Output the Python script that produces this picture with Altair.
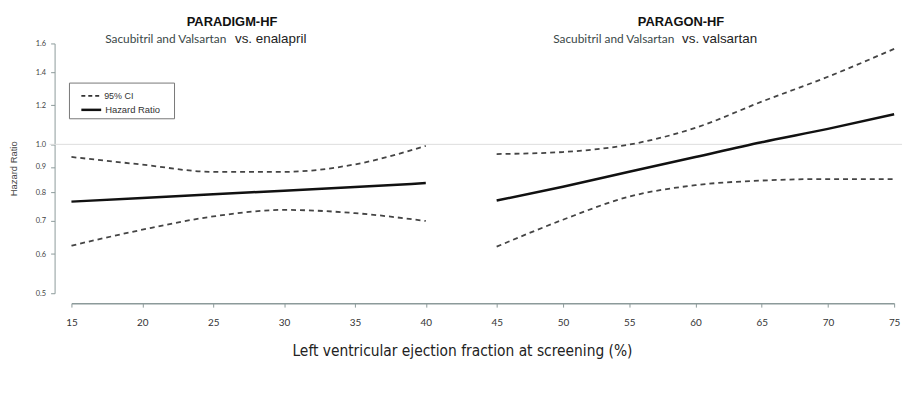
import altair as alt
import pandas as pd

trial = ["PARADIGM-HF"] * 6 + ["PARAGON-HF"] * 7
ef = [15, 20, 25, 30, 35, 40, 45, 50, 55, 60, 65, 70, 75]
hr = [0.766, 0.779, 0.793, 0.806, 0.820, 0.835,
      0.770, 0.821, 0.880, 0.943, 1.010, 1.075, 1.151]
upper = [0.943, 0.910, 0.880, 0.880, 0.911, 0.993,
         0.956, 0.965, 0.999, 1.080, 1.220, 1.370, 1.560]
lower = [0.624, 0.672, 0.715, 0.737, 0.726, 0.700,
         0.621, 0.704, 0.784, 0.827, 0.845, 0.851, 0.851]
x_ticks = [15, 20, 25, 30, 35, 40, 45, 50, 55, 60, 65, 70, 75]
y_ticks = [0.5, 0.6, 0.7, 0.8, 0.9, 1.0, 1.2, 1.4, 1.6]
ref_value = [1.0]

df = pd.DataFrame({"trial": trial, "ef": ef, "hr": hr, "upper": upper, "lower": lower})

AXIS_GRAY = "#8c9a9a"

xenc = alt.X(
    "ef:Q",
    scale=alt.Scale(domain=[15, 45, 75], range=[0, 429, 830]),
    axis=alt.Axis(
        values=x_ticks, offset=10, grid=False, labelFlush=False,
        title="Left ventricular ejection fraction at screening (%)",
        domainColor=AXIS_GRAY, domainWidth=1.5, tickColor=AXIS_GRAY, tickSize=4,
        labelFont="Lato", labelFontSize=10, labelColor="#333", labelPadding=11,
        titleFont="DejaVu Sans Condensed, Liberation Sans, Arial, sans-serif", titleFontSize=15.5,
        titleFontWeight="normal", titleColor="#222", titlePadding=16, titleX=394, titleAlign="center",
    ),
)


def yenc(field):
    return alt.Y(
        f"{field}:Q",
        scale=alt.Scale(type="log", domain=[0.5, 1.6], nice=False),
        axis=alt.Axis(
            values=y_ticks, format=".1f", offset=17, grid=False, title="Hazard Ratio",
            domainColor=AXIS_GRAY, tickColor=AXIS_GRAY, tickSize=4, labelFlush=False,
            labelFont="Lato", labelFontSize=7.5, labelColor="#444", labelPadding=5,
            titleFont="Liberation Sans", titleFontSize=9.5, titleFontWeight="normal",
            titleColor="#444", titlePadding=17,
        ),
    )


base = alt.Chart(df)
hr_line = base.mark_line(color="#111", strokeWidth=2.5, interpolate="monotone").encode(
    x=xenc, y=yenc("hr"), detail="trial:N")
up_line = base.mark_line(color="#444", strokeWidth=1.8, strokeDash=[5, 4], interpolate="monotone").encode(
    x=xenc, y=yenc("upper"), detail="trial:N")
lo_line = base.mark_line(color="#444", strokeWidth=1.8, strokeDash=[5, 4], interpolate="monotone").encode(
    x=xenc, y=yenc("lower"), detail="trial:N")

ref = alt.Chart(pd.DataFrame({"v": ref_value})).mark_rule(color="#dddddd", strokeWidth=1).encode(
    y=yenc("v"), x=alt.value(-22), x2=alt.value(838))

one = pd.DataFrame({"k": [0]})


def txt(s, x, y, size, font="Liberation Sans", weight="normal", color="#222", align="left"):
    return alt.Chart(pd.DataFrame({"t": [s]})).mark_text(
        font=font, fontSize=size, fontWeight=weight, color=color, align=align, baseline="middle"
    ).encode(x=alt.value(x), y=alt.value(y), text="t:N")


titles = [
    txt("PARADIGM-HF", 162, -22, 13, weight="bold", color="#111", align="center"),
    txt("Sacubitril and Valsartan", 34, -4, 12, font="Lato", color="#3a4848"),
    txt("vs. enalapril", 165, -4, 13.5, color="#222"),
    txt("PARAGON-HF", 615, -22, 13, weight="bold", color="#111", align="center"),
    txt("Sacubitril and Valsartan", 486, -4, 12, font="Lato", color="#3a4848"),
    txt("vs. valsartan", 616, -4, 13.5, color="#222"),
]

box = alt.Chart(one).mark_rect(fill="white", stroke="#777", strokeWidth=1).encode(
    x=alt.value(-2), x2=alt.value(104), y=alt.value(40), y2=alt.value(76))
leg_dash = alt.Chart(one).mark_rule(color="#333", strokeWidth=1.8, strokeDash=[4, 3]).encode(
    x=alt.value(10), x2=alt.value(30), y=alt.value(53))
leg_solid = alt.Chart(one).mark_rule(color="#111", strokeWidth=2.5).encode(
    x=alt.value(10), x2=alt.value(30), y=alt.value(67))
leg_t1 = txt("95% CI", 33, 53, 9, color="#333")
leg_t2 = txt("Hazard Ratio", 34, 67, 9.5, color="#333")

chart = alt.layer(
    ref, lo_line, up_line, hr_line, *titles, box, leg_dash, leg_solid, leg_t1, leg_t2
).properties(
    width=830, height=252,
    autosize=alt.AutoSizeParams(type="none"),
    padding={"left": 64, "top": 34, "right": 15, "bottom": 110},
).configure(background="white").configure_view(stroke=None)

chart.save("out.html", embed_options={"renderer": "svg", "actions": False})
